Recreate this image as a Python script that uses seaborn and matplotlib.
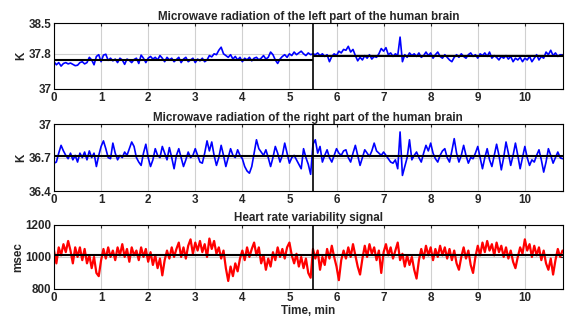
import numpy as np
import matplotlib
matplotlib.use("Agg")
import matplotlib.pyplot as plt
import seaborn as sns

# time grid, min (0.05 min step)
time_min = np.linspace(0, 10.8, 217)

# microwave radiation, left part of the brain, K
left_brain = [
    37.62, 37.55, 37.60, 37.52, 37.58, 37.60, 37.57, 37.59, 37.56, 37.53,
    37.54, 37.60, 37.62, 37.57, 37.60, 37.72, 37.66, 37.55, 37.74, 37.78,
    37.62, 37.77, 37.79, 37.65, 37.70, 37.64, 37.68, 37.60, 37.70, 37.66,
    37.56, 37.68, 37.65, 37.60, 37.67, 37.70, 37.58, 37.77, 37.70, 37.60,
    37.70, 37.74, 37.68, 37.72, 37.66, 37.76, 37.70, 37.62, 37.72, 37.66,
    37.70, 37.62, 37.67, 37.72, 37.60, 37.68, 37.72, 37.62, 37.66, 37.70,
    37.60, 37.68, 37.64, 37.70, 37.62, 37.66, 37.76, 37.73, 37.80, 37.78,
    37.88, 37.95, 37.80, 37.76, 37.72, 37.78, 37.68, 37.74, 37.66, 37.72,
    37.62, 37.70, 37.66, 37.72, 37.64, 37.70, 37.72, 37.66, 37.70, 37.76,
    37.68, 37.72, 37.84, 37.78, 37.66, 37.58, 37.68, 37.74, 37.78, 37.72,
    37.80, 37.76, 37.84, 37.78, 37.82, 37.86, 37.80, 37.76, 37.82, 37.78,
    37.80,
    37.78, 37.82, 37.76, 37.80, 37.74, 37.78, 37.62, 37.74, 37.80, 37.76,
    37.86, 37.82, 37.90, 37.88, 37.97, 37.84, 37.90, 37.76, 37.64, 37.72,
    37.66, 37.76, 37.70, 37.78, 37.68, 37.74, 37.72, 37.80, 37.92, 37.86,
    37.94, 37.78, 37.82, 37.74, 37.80, 37.76, 38.18, 37.62, 37.78, 37.72,
    37.82, 37.76, 37.80, 37.74, 37.82, 37.72, 37.76, 37.84, 37.76, 37.82,
    37.70, 37.78, 37.84, 37.74, 37.70, 37.78, 37.72, 37.66, 37.62, 37.72,
    37.78, 37.72, 37.80, 37.74, 37.70, 37.78, 37.82, 37.74, 37.78, 37.70,
    37.80, 37.76, 37.82, 37.74, 37.84, 37.70, 37.76, 37.72, 37.66, 37.74,
    37.70, 37.76, 37.68, 37.74, 37.62, 37.70, 37.66, 37.72, 37.62, 37.70,
    37.66, 37.74, 37.62, 37.70, 37.78, 37.66, 37.74, 37.70, 37.84, 37.78,
    37.88, 37.76, 37.82, 37.74, 37.78, 37.76,
]

# microwave radiation, right part of the brain, K
right_brain = [
    36.65, 36.66, 36.74, 36.81, 36.76, 36.72, 36.69, 36.74, 36.68, 36.72,
    36.66, 36.74, 36.70, 36.75, 36.68, 36.76, 36.70, 36.74, 36.62, 36.72,
    36.80, 36.85, 36.78, 36.70, 36.69, 36.83, 36.74, 36.68, 36.72, 36.70,
    36.75, 36.72, 36.78, 36.84, 36.80, 36.70, 36.66, 36.63, 36.74, 36.82,
    36.70, 36.62, 36.68, 36.78, 36.72, 36.70, 36.80, 36.74, 36.68, 36.79,
    36.70, 36.60, 36.72, 36.78, 36.70, 36.62, 36.68, 36.75, 36.70, 36.72,
    36.78, 36.72, 36.66, 36.65, 36.74, 36.85, 36.76, 36.84, 36.72, 36.63,
    36.70, 36.81, 36.72, 36.62, 36.70, 36.78, 36.72, 36.70, 36.77, 36.72,
    36.69, 36.62, 36.58, 36.56, 36.62, 36.74, 36.86, 36.78, 36.75, 36.72,
    36.77, 36.70, 36.62, 36.70, 36.80, 36.74, 36.66, 36.72, 36.83, 36.74,
    36.65, 36.70, 36.72, 36.68, 36.64, 36.60, 36.78, 36.70, 36.64, 36.55,
    36.82, 36.86, 36.74, 36.80, 36.66, 36.72, 36.77, 36.70, 36.66, 36.72,
    36.78, 36.74, 36.72, 36.76, 36.77, 36.70, 36.66, 36.74, 36.81, 36.72,
    36.63, 36.70, 36.77, 36.74, 36.71, 36.76, 36.83, 36.76, 36.74, 36.72,
    36.75, 36.72, 36.69, 36.66, 36.65, 36.68, 36.60, 36.93, 36.54, 36.62,
    36.70, 36.86, 36.68, 36.72, 36.75, 36.70, 36.66, 36.74, 36.81, 36.76,
    36.83, 36.74, 36.69, 36.66, 36.72, 36.76, 36.78, 36.70, 36.66, 36.76,
    36.87, 36.74, 36.66, 36.72, 36.81, 36.72, 36.65, 36.70, 36.69, 36.74,
    36.80, 36.70, 36.60, 36.70, 36.78, 36.68, 36.62, 36.72, 36.82, 36.72,
    36.59, 36.70, 36.84, 36.74, 36.63, 36.72, 36.83, 36.72, 36.60, 36.70,
    36.80, 36.70, 36.63, 36.68, 36.66, 36.72, 36.77, 36.68, 36.57, 36.66,
    36.78, 36.72, 36.65, 36.70, 36.75, 36.70, 36.69,
]

# heart rate variability, msec
hrv = [
    1040, 960, 1060, 1010, 1080, 1030, 1100, 1040, 960, 1060,
    1000, 1060, 980, 1050, 960, 1010, 930, 1000, 900, 880,
    980, 1050, 990, 1060, 1000, 1040, 980, 1060, 1010, 1080,
    1000, 1050, 970, 1060, 1010, 1040, 980, 1060, 1000, 1050,
    970, 1030, 950, 1010, 930, 990, 885, 980, 1040, 990,
    1060, 1000, 1050, 1090, 1000, 1060, 990, 1070, 1110, 1020,
    1090, 1040, 1100, 1030, 1080, 1000, 1115, 1050, 1100, 1020,
    1060, 990, 1040, 930, 850, 940, 880, 960, 910, 990,
    1040, 980, 1060, 1000, 1050, 1090, 1010, 1060, 960, 1010,
    920, 990, 940, 1030, 980, 1060, 1000, 1050, 990, 1060,
    1090, 1010, 960, 1020, 940, 1000, 930, 990, 900, 870,
    1050, 990, 1040, 920, 1000, 950, 1050, 990, 1070, 1000,
    940, 855, 980, 1040, 990, 1060, 1000, 1080, 1010, 940,
    890, 990, 1070, 1000, 1080, 1020, 1060, 980, 1040, 900,
    1030, 1080, 1010, 1060, 990, 1040, 1090, 980, 1020, 940,
    1010, 950, 1000, 920, 865, 980, 1050, 990, 1070, 1010,
    1060, 980, 1050, 1000, 1070, 1010, 1060, 990, 1050, 980,
    1040, 960, 920, 1000, 1060, 990, 1040, 950, 900, 1000,
    1070, 1010, 1090, 1030, 1100, 1040, 1080, 1010, 1090, 1030,
    1070, 1000, 1060, 990, 1040, 970, 930, 1000, 1060, 1020,
    1110, 1040, 1080, 1000, 1070, 1010, 1060, 980, 1040, 960,
    920, 990, 890, 980, 1050, 1000, 1040,
]

# mean levels before / after the 5.5 min mark
split_t = 5.5
left_means = [37.66, 37.74]
right_means = [36.71, 36.71]
hrv_means = [1012, 1012]

titles = ["Microwave radiation of the left part of the human brain",
          "Microwave radiation of the right part of the human brain",
          "Heart rate variability signal"]
ylabels = ["K", "K", "msec"]
yticks = [[37, 37.8, 38.5], [36.4, 36.7, 37], [800, 1000, 1200]]
ytick_labels = [["37", "37.8", "38.5"], ["36.4", "36.7", "37"],
                ["800", "1000", "1200"]]

sns.set_style("white")
plt.rcParams["font.family"] = ["Liberation Sans", "DejaVu Sans"]
plt.rcParams["font.weight"] = "bold"
fs = 8.4

fig = plt.figure(figsize=(5.65, 3.2), dpi=100)
boxes = [[0.0956, 0.722, 0.9, 0.206],
         [0.0956, 0.403, 0.9, 0.209],
         [0.0956, 0.097, 0.9, 0.200]]

series = [left_brain, right_brain, hrv]
means = [left_means, right_means, hrv_means]
colors = ["#0000ff", "#0000ff", "#ff0000"]
widths = [1.2, 1.2, 1.6]

for i in range(3):
    ax = fig.add_axes(boxes[i])
    sns.lineplot(x=time_min, y=series[i], ax=ax, color=colors[i],
                 linewidth=widths[i])
    ax.hlines(means[i][0], 0, split_t, color="black", linewidth=1.5)
    ax.hlines(means[i][1], split_t, 10.8, color="black", linewidth=1.5)
    ax.axvline(split_t, color="black", linewidth=1.2)
    ax.set_xlim(0, 10.8)
    ax.set_ylim(yticks[i][0], yticks[i][-1])
    ax.set_xticks(range(0, 11))
    ax.set_yticks(yticks[i])
    ax.set_yticklabels(ytick_labels[i])
    ax.grid(True, color="#d0d0d0", linewidth=0.8)
    ax.set_axisbelow(True)
    ax.tick_params(direction="in", length=2.5, width=0.8, pad=2,
                   top=True, right=True, labelsize=fs)
    for s in ax.spines.values():
        s.set_color("black")
        s.set_linewidth(0.8)
    ax.set_title(titles[i], fontsize=fs, fontweight="bold", pad=2.5)
    ax.set_ylabel(ylabels[i], fontsize=fs, fontweight="bold", labelpad=1)
    if i == 2:
        ax.set_xlabel("Time, min", fontsize=fs, fontweight="bold", labelpad=1)

fig.savefig("out.png", dpi=100, facecolor="white")
